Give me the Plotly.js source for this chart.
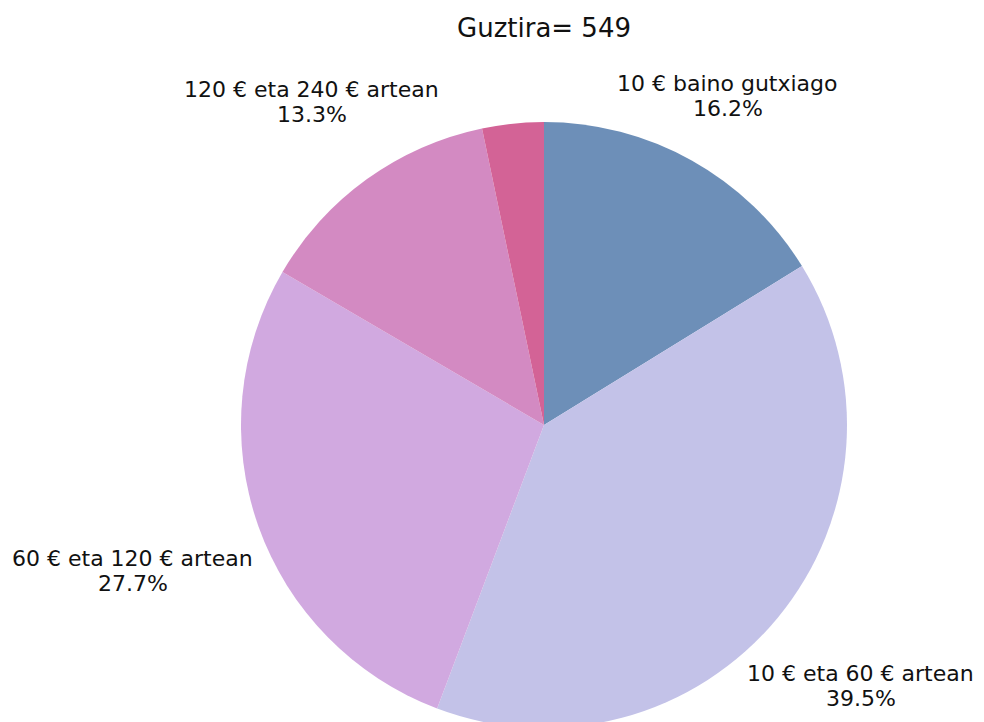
<!DOCTYPE html>
<html>
<head>
<meta charset="utf-8">
<script src="https://cdn.plot.ly/plotly-3.0.1.min.js"></script>
<style>html,body{margin:0;padding:0;overflow:hidden;background:#fff;}</style>
</head>
<body>
<div id="chart" style="width:984px;height:740px;"></div>
<script>
const categories = ["10 € baino gutxiago", "10 € eta 60 € artean", "60 € eta 120 € artean", "120 € eta 240 € artean", "240 € baino gehiago"];
const counts = [89, 217, 152, 73, 18];
const showLabel = [true, true, true, true, false];
const colors = ["#6d8fb8", "#c3c2e8", "#d1a9e0", "#d38ac2", "#d36396"];
const total = counts.reduce((a, b) => a + b, 0);

const W = 984, H = 740;
const margin = {l: 104, r: 0, t: 122, b: 12};
const plotW = W - margin.l - margin.r, plotH = H - margin.t - margin.b;
const R = Math.min(plotW, plotH) / 2;

const fontFamily = '"DejaVu Sans", sans-serif';
const labelSize = 22;
const ctx = document.createElement('canvas').getContext('2d');
ctx.font = labelSize + 'px "DejaVu Sans"';

const annotations = [];
let cum = 0;
counts.forEach((v, i) => {
  const frac = v / total;
  const mid = (cum + frac / 2) * 2 * Math.PI;
  cum += frac;
  if (!showLabel[i]) return;
  const pct = (frac * 100).toFixed(1) + '%';
  const hw = Math.max(ctx.measureText(categories[i]).width, ctx.measureText(pct).width) / 2;
  const s = Math.sin(mid), c = Math.cos(mid);
  const r = 1.066 * R + hw * Math.abs(s);
  const dx = r * s, dy = r * c;
  const common = {x: 0.5, y: 0.5, xref: 'paper', yref: 'paper', showarrow: false,
    xanchor: 'center', yanchor: 'middle', font: {family: fontFamily, size: labelSize, color: '#111'}};
  annotations.push(Object.assign({}, common, {text: categories[i], xshift: dx, yshift: dy + 12.5}));
  annotations.push(Object.assign({}, common, {text: pct, xshift: dx, yshift: dy - 12.5}));
});

const trace = {
  type: 'pie',
  labels: categories,
  values: counts,
  sort: false,
  direction: 'clockwise',
  rotation: 0,
  textinfo: 'none',
  hoverinfo: 'label+percent+value',
  marker: {colors: colors, line: {width: 0}},
  showlegend: false
};

const layout = {
  width: W,
  height: H,
  margin: margin,
  paper_bgcolor: '#fff',
  annotations: annotations,
  title: {
    text: 'Guztira= ' + total,
    font: {family: fontFamily, size: 26, color: '#111'},
    x: 0.5, xref: 'paper', xanchor: 'center',
    y: 1 - 28 / H, yref: 'container', yanchor: 'middle'
  }
};

Plotly.newPlot('chart', [trace], layout, {displayModeBar: false});
</script>
</body>
</html>
